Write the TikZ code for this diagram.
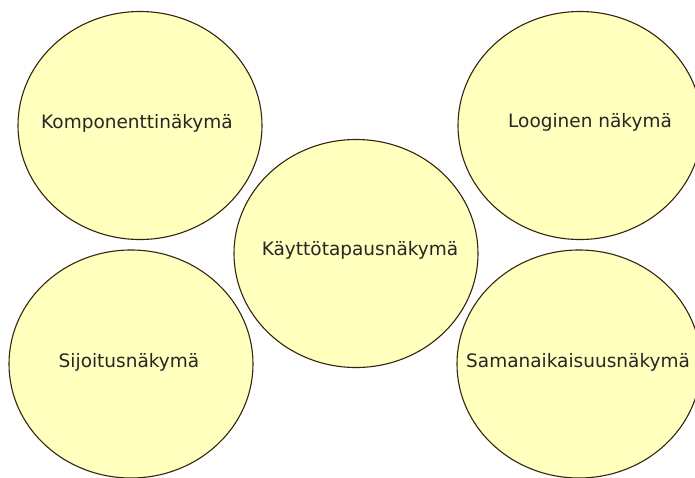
\documentclass[tikz,border=0pt]{standalone}
\usepackage{fontspec}
\setmainfont{DejaVu Sans}
\usetikzlibrary{shapes.geometric}
\definecolor{bubblefill}{RGB}{255,255,190}
\definecolor{bubbleline}{RGB}{55,35,15}
\begin{document}
\begin{tikzpicture}[x=1pt,y=-1pt,
  bubble/.style={ellipse, draw=bubbleline, line width=1.1pt, fill=bubblefill,
    minimum width=244pt, minimum height=228pt, inner sep=0pt},
  btext/.style={font=\fontsize{18.5}{22}\selectfont, text=black!85, inner sep=0pt}]
\fill[white] (0,0) rectangle (695,477);
\useasboundingbox (0,0) rectangle (695,477);
\node[bubble] (komp) at (140,125.5) {};
\node[bubble] (loog) at (580,125.5) {};
\node[bubble] (sij) at (131,364) {};
\node[bubble] (sama) at (579,364) {};
\node[bubble] (kay) at (356,253.5) {};
\node[btext] (tkomp) at (137,123) {Komponenttinäkymä};
\node[btext] (tloog) at (590,122) {Looginen näkymä};
\node[btext] (tsij) at (129,362) {Sijoitusnäkymä};
\node[btext] (tsama) at (578,362) {Samanaikaisuusnäkymä};
\node[btext] (tkay) at (360,250) {Käyttötapausnäkymä};
\end{tikzpicture}
\end{document}
